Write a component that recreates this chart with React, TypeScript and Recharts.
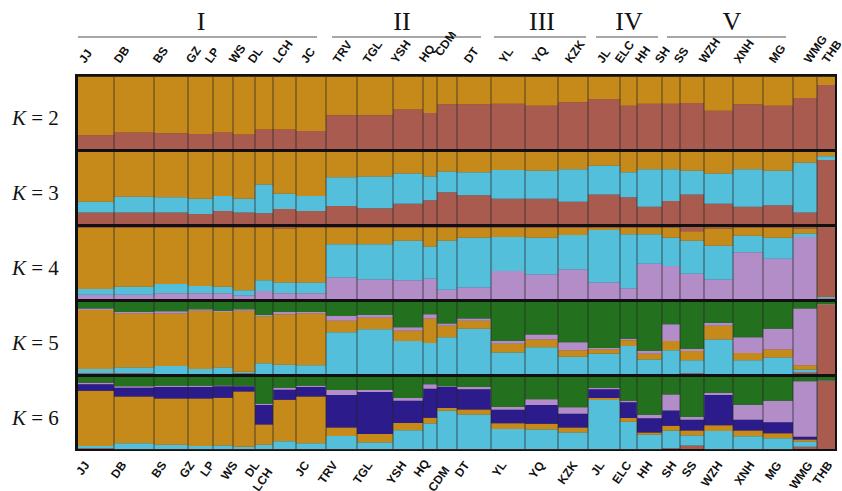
import { AreaChart, Area, XAxis, YAxis, ReferenceLine } from 'recharts';

// populations, left to right, and their bar widths (sample-size units)
const pops = ['JJ', 'DB', 'BS', 'GZ', 'LP', 'WS', 'DL', 'LCH', 'JC', 'TRV', 'TGL', 'YSH', 'HQ', 'CDM', 'DT', 'YL', 'YQ', 'KZK', 'JL', 'ELC', 'HH', 'SH', 'SS', 'WZH', 'XNH', 'MG', 'WMG', 'THB'];
const popWidth = [36, 40, 34, 25, 20, 22, 18, 23, 30, 31, 36, 30, 14, 20, 34, 34, 33, 30, 32, 17, 25, 18, 24, 29, 30, 30, 24, 18];

// label positions along the x axis (same units as popWidth)
const topLabelAt = [7, 42, 81, 114, 133, 157, 176, 201, 229, 261, 291, 319, 347, 363, 392, 427, 460, 493, 525, 543, 563, 583, 602, 627, 662, 697, 732, 750];
const bottomLabelAt = [12, 49, 89, 117, 137, 160, 182, 195, 232, 260, 295, 329, 352, 372, 392, 429, 467, 500, 527, 554, 575, 599, 619, 645, 677, 704, 735, 755];

// group headers
const groups = ['I', 'II', 'III', 'IV', 'V'];
const groupCenter = [201, 402, 542, 629, 732];
const groupFrom = [78, 332, 494, 596, 667];
const groupTo = [317, 481, 586, 658, 786];

const GOLD = '#c58a1a';
const RED = '#a85b4e';
const CYAN = '#54bfdb';
const LAV = '#b38dc7';
const GREEN = '#23701f';
const NAVY = '#2c1b8b';

// K = 2 (bottom -> top)
const k2Red = [0.19, 0.23, 0.22, 0.21, 0.23, 0.2, 0.27, 0.27, 0.25, 0.47, 0.47, 0.55, 0.5, 0.62, 0.62, 0.63, 0.6, 0.65, 0.69, 0.6, 0.63, 0.63, 0.64, 0.53, 0.62, 0.6, 0.71, 0.89];
const k2Gold = [0.81, 0.77, 0.78, 0.79, 0.77, 0.8, 0.73, 0.73, 0.75, 0.53, 0.53, 0.45, 0.5, 0.38, 0.38, 0.37, 0.4, 0.35, 0.31, 0.4, 0.37, 0.37, 0.36, 0.47, 0.38, 0.4, 0.29, 0.11];

// K = 3
const k3Red = [0.16, 0.16, 0.16, 0.14, 0.18, 0.16, 0.15, 0.21, 0.18, 0.25, 0.22, 0.28, 0.33, 0.44, 0.4, 0.35, 0.35, 0.31, 0.41, 0.37, 0.24, 0.32, 0.41, 0.28, 0.24, 0.26, 0.16, 0.89];
const k3Cyan = [0.15, 0.22, 0.21, 0.21, 0.21, 0.19, 0.4, 0.21, 0.21, 0.4, 0.44, 0.42, 0.33, 0.29, 0.32, 0.4, 0.39, 0.45, 0.4, 0.35, 0.52, 0.44, 0.33, 0.42, 0.52, 0.48, 0.69, 0.05];
const k3Gold = [0.69, 0.62, 0.63, 0.65, 0.61, 0.65, 0.45, 0.58, 0.61, 0.35, 0.34, 0.3, 0.34, 0.27, 0.28, 0.25, 0.26, 0.24, 0.19, 0.28, 0.24, 0.24, 0.26, 0.3, 0.24, 0.26, 0.15, 0.06];

// K = 4
const k4Lav = [0.06, 0.06, 0.08, 0.08, 0.08, 0.05, 0.11, 0.08, 0.08, 0.3, 0.27, 0.26, 0.28, 0.13, 0.16, 0.39, 0.34, 0.41, 0.23, 0.15, 0.49, 0.46, 0.35, 0.27, 0.65, 0.56, 0.86, 0.01];
const k4Cyan = [0.08, 0.11, 0.13, 0.1, 0.09, 0.07, 0.15, 0.15, 0.15, 0.46, 0.49, 0.55, 0.45, 0.68, 0.69, 0.47, 0.51, 0.48, 0.73, 0.75, 0.41, 0.39, 0.46, 0.47, 0.23, 0.29, 0.05, 0.02];
const k4Gold = [0.85, 0.82, 0.78, 0.81, 0.82, 0.87, 0.73, 0.75, 0.76, 0.23, 0.23, 0.18, 0.26, 0.18, 0.14, 0.13, 0.14, 0.1, 0.03, 0.09, 0.09, 0.14, 0.13, 0.24, 0.11, 0.14, 0.07, 0.0];
const k4Red = [0.01, 0.01, 0.01, 0.01, 0.01, 0.01, 0.01, 0.02, 0.01, 0.01, 0.01, 0.01, 0.01, 0.01, 0.01, 0.01, 0.01, 0.01, 0.01, 0.01, 0.01, 0.01, 0.06, 0.02, 0.01, 0.01, 0.02, 0.97];

// K = 5
const k5Red = [0.01, 0.01, 0, 0, 0, 0.01, 0, 0, 0, 0, 0, 0, 0, 0, 0, 0, 0, 0, 0, 0, 0, 0, 0.01, 0, 0, 0, 0.02, 0.97];
const k5Cyan = [0.06, 0.08, 0.11, 0.07, 0.09, 0.02, 0.15, 0.13, 0.12, 0.58, 0.62, 0.46, 0.43, 0.51, 0.63, 0.3, 0.37, 0.24, 0.28, 0.39, 0.2, 0.33, 0.18, 0.48, 0.19, 0.23, 0.04, 0];
const k5Gold = [0.82, 0.75, 0.73, 0.81, 0.77, 0.85, 0.65, 0.7, 0.72, 0.16, 0.16, 0.14, 0.34, 0.16, 0.11, 0.12, 0.11, 0.09, 0.06, 0.08, 0.08, 0.13, 0.13, 0.19, 0.1, 0.11, 0.06, 0];
const k5Lav = [0.02, 0.02, 0.03, 0.02, 0.02, 0.02, 0.02, 0.03, 0.02, 0.07, 0.04, 0.05, 0.06, 0.03, 0.03, 0.04, 0.07, 0.11, 0.02, 0.02, 0.04, 0.23, 0.03, 0.04, 0.22, 0.29, 0.79, 0];
const k5Green = [0.09, 0.14, 0.13, 0.1, 0.12, 0.1, 0.18, 0.14, 0.14, 0.19, 0.18, 0.35, 0.17, 0.3, 0.23, 0.54, 0.45, 0.56, 0.64, 0.51, 0.68, 0.31, 0.65, 0.29, 0.49, 0.37, 0.09, 0.03];

// K = 6
const k6Red = [0.01, 0, 0, 0, 0, 0, 0, 0, 0, 0, 0, 0, 0, 0, 0, 0, 0, 0, 0, 0, 0, 0.01, 0.05, 0, 0, 0, 0.03, 0.95];
const k6Cyan = [0.03, 0.08, 0.06, 0.04, 0.05, 0.03, 0.06, 0.11, 0.08, 0.18, 0.09, 0.26, 0.35, 0.53, 0.48, 0.28, 0.27, 0.23, 0.68, 0.38, 0.2, 0.24, 0.14, 0.25, 0.18, 0.15, 0.07, 0];
const k6Gold = [0.77, 0.65, 0.64, 0.66, 0.67, 0.77, 0.28, 0.58, 0.65, 0.12, 0.12, 0.1, 0.08, 0.04, 0.07, 0.08, 0.08, 0.07, 0.03, 0.05, 0.03, 0.07, 0.07, 0.08, 0.08, 0.07, 0.03, 0];
const k6Navy = [0.09, 0.12, 0.16, 0.16, 0.16, 0.07, 0.27, 0.14, 0.13, 0.45, 0.58, 0.31, 0.4, 0.29, 0.28, 0.19, 0.26, 0.19, 0.12, 0.22, 0.2, 0.21, 0.15, 0.42, 0.15, 0.15, 0.04, 0];
const k6Lav = [0.02, 0.02, 0.02, 0.02, 0.01, 0.01, 0.02, 0.03, 0.02, 0.07, 0.03, 0.04, 0.06, 0.01, 0.03, 0.04, 0.08, 0.09, 0.02, 0.02, 0.05, 0.22, 0.04, 0.03, 0.21, 0.3, 0.76, 0];
const k6Green = [0.08, 0.13, 0.12, 0.12, 0.12, 0.12, 0.37, 0.15, 0.12, 0.18, 0.18, 0.29, 0.1, 0.13, 0.14, 0.42, 0.31, 0.42, 0.15, 0.33, 0.53, 0.24, 0.56, 0.22, 0.39, 0.33, 0.06, 0.05];

type Series = { key: string; color: string; values: number[] };

const panels: { k: number; series: Series[] }[] = [
  { k: 2, series: [{ key: 'red', color: RED, values: k2Red }, { key: 'gold', color: GOLD, values: k2Gold }] },
  { k: 3, series: [{ key: 'red', color: RED, values: k3Red }, { key: 'cyan', color: CYAN, values: k3Cyan }, { key: 'gold', color: GOLD, values: k3Gold }] },
  { k: 4, series: [{ key: 'lav', color: LAV, values: k4Lav }, { key: 'cyan', color: CYAN, values: k4Cyan }, { key: 'gold', color: GOLD, values: k4Gold }, { key: 'red', color: RED, values: k4Red }] },
  { k: 5, series: [{ key: 'red', color: RED, values: k5Red }, { key: 'cyan', color: CYAN, values: k5Cyan }, { key: 'gold', color: GOLD, values: k5Gold }, { key: 'lav', color: LAV, values: k5Lav }, { key: 'green', color: GREEN, values: k5Green }] },
  { k: 6, series: [{ key: 'red', color: RED, values: k6Red }, { key: 'cyan', color: CYAN, values: k6Cyan }, { key: 'gold', color: GOLD, values: k6Gold }, { key: 'navy', color: NAVY, values: k6Navy }, { key: 'lav', color: LAV, values: k6Lav }, { key: 'green', color: GREEN, values: k6Green }] },
];

const starts: number[] = [];
const total = popWidth.reduce((acc, w) => {
  starts.push(acc);
  return acc + w;
}, 0);

const PLOT_LEFT = 78;
const PANEL_H = 72;
const PANEL_GAP = 3;
const FIRST_TOP = 77;
const AXIS_H = 45;
const SIDE = 12; // room either side so rotated labels are not clipped
const ANGLE = -55;
const SANS = '"Liberation Sans", Arial, sans-serif';
const SERIF = '"Liberation Serif", "Times New Roman", serif';

// small vertical nudges for the crowded labels
const topNudge: Record<string, number> = { HQ: -1, CDM: -7 };
const bottomNudge: Record<string, number> = { LCH: 7, CDM: 5, HQ: -2 };

function buildRows(series: Series[]) {
  const rows = pops.map((p, i) => {
    const r: Record<string, number | string> = { x: starts[i], pop: p };
    series.forEach((s) => (r[s.key] = s.values[i]));
    return r;
  });
  // closing point so the last step runs to the right edge
  return [...rows, { ...rows[rows.length - 1], x: total }];
}

function TopTick(props: any) {
  const { x, index } = props;
  const name = pops[index];
  const y = 32 + (topNudge[name] || 0);
  return (
    <text x={x} y={y} transform={`rotate(${ANGLE} ${x} ${y})`} textAnchor="start" fontSize={12} fontWeight="bold" fontFamily={SANS} fill="#111">
      {name}
    </text>
  );
}

function BottomTick(props: any) {
  const { x, index } = props;
  const name = pops[index];
  const y = 88 + (bottomNudge[name] || 0);
  return (
    <text x={x} y={y} transform={`rotate(${ANGLE} ${x} ${y})`} textAnchor="end" fontSize={12} fontWeight="bold" fontFamily={SANS} fill="#111">
      {name}
    </text>
  );
}

function Panel({ series, top, axis }: { series: Series[]; top: number; axis?: 'top' | 'bottom' }) {
  const rows = buildRows(series);
  const extra = axis ? AXIS_H : 0;
  return (
    <div style={{ position: 'absolute', left: PLOT_LEFT - SIDE, top: axis === 'top' ? top - AXIS_H : top }}>
      <AreaChart
        width={total + 2 * SIDE}
        height={PANEL_H + extra}
        data={rows}
        stackOffset="expand"
        margin={{ top: 0, right: SIDE, bottom: 0, left: SIDE }}
      >
        <XAxis
          type="number"
          dataKey="x"
          domain={[0, total]}
          allowDataOverflow
          hide={!axis}
          orientation={axis === 'top' ? 'top' : 'bottom'}
          height={AXIS_H}
          ticks={axis === 'top' ? topLabelAt : bottomLabelAt}
          interval={0}
          tickLine={false}
          axisLine={false}
          tick={axis === 'top' ? <TopTick /> : <BottomTick />}
        />
        <YAxis hide domain={[0, 1]} />
        {series.map((s) => (
          <Area
            key={s.key}
            type="stepAfter"
            dataKey={s.key}
            stackId="q"
            fill={s.color}
            fillOpacity={1}
            stroke={s.color}
            strokeWidth={0.5}
            dot={false}
            activeDot={false}
            isAnimationActive={false}
          />
        ))}
        {starts.slice(1).map((b) => (
          <ReferenceLine key={b} x={b} stroke="#262626" strokeOpacity={0.6} strokeWidth={1.2} />
        ))}
      </AreaChart>
    </div>
  );
}

export default function App() {
  const lastBottom = FIRST_TOP + panels.length * PANEL_H + (panels.length - 1) * PANEL_GAP;
  return (
    <div style={{ position: 'absolute', left: 0, top: 0, width: 842, height: 491, background: '#fff', overflow: 'hidden' }}>
      {/* black frame behind the panels */}
      <div
        style={{
          position: 'absolute',
          left: PLOT_LEFT - 3,
          top: FIRST_TOP - 3,
          width: total + 5,
          height: lastBottom - FIRST_TOP + 5,
          background: '#111',
        }}
      />
      <svg width={842} height={491} style={{ position: 'absolute', left: 0, top: 0 }}>
        {groups.map((g, i) => (
          <g key={g}>
            <text x={groupCenter[i]} y={30} textAnchor="middle" fontSize={26} fontFamily={SERIF} fill="#111">
              {g}
            </text>
            <line x1={groupFrom[i]} x2={groupTo[i]} y1={37} y2={37} stroke="#8a8a8a" strokeWidth={1.5} />
          </g>
        ))}
        {panels.map((p, i) => {
          const mid = FIRST_TOP + i * (PANEL_H + PANEL_GAP) + PANEL_H / 2;
          return (
            <text key={p.k} x={12} y={mid + 12} fontSize={21} fontFamily={SERIF} fill="#111">
              <tspan fontStyle="italic">K</tspan>
              <tspan> = {p.k}</tspan>
            </text>
          );
        })}
      </svg>
      {panels.map((p, i) => (
        <Panel
          key={p.k}
          series={p.series}
          top={FIRST_TOP + i * (PANEL_H + PANEL_GAP)}
          axis={i === 0 ? 'top' : i === panels.length - 1 ? 'bottom' : undefined}
        />
      ))}
    </div>
  );
}
